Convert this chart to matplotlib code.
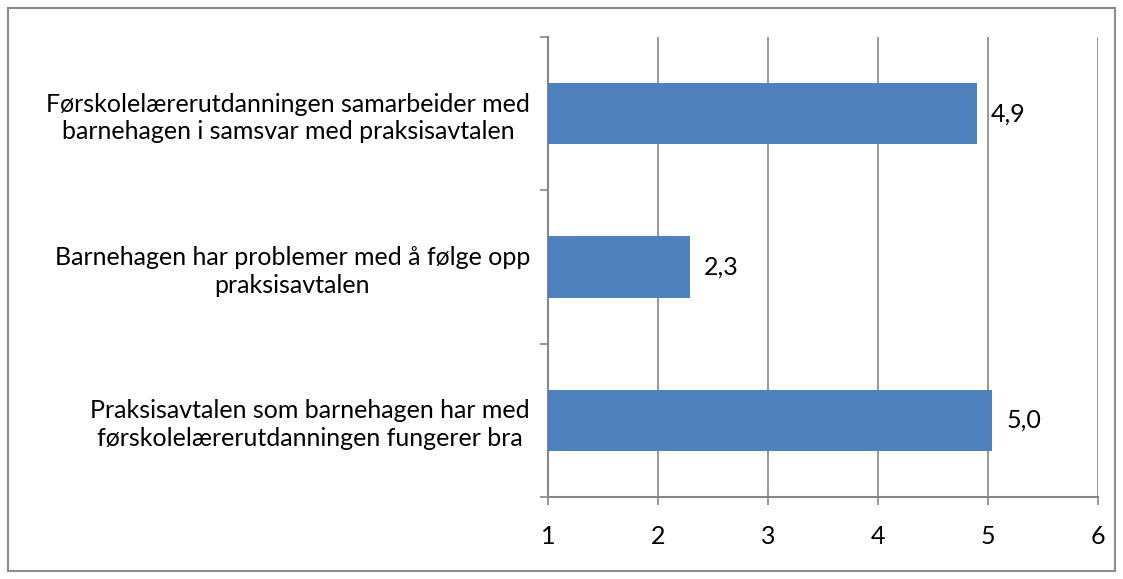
import numpy as np
import matplotlib.pyplot as plt
from matplotlib.patches import Rectangle

kategorier = [
    "Praksisavtalen som barnehagen har med\nførskolelærerutdanningen fungerer bra",
    "Barnehagen har problemer med å følge opp\npraksisavtalen",
    "Førskolelærerutdanningen samarbeider med\nbarnehagen i samsvar med praksisavtalen",
]
verdier = [5.04, 2.29, 4.90]
etiketter = ["5,0", "2,3", "4,9"]
x_ticks = [1, 2, 3, 4, 5, 6]

plt.rcParams['font.family'] = ['Lato', 'DejaVu Sans']
grid_c = '#868686'
bar_c = '#4F81BD'
fs = 18

fig = plt.figure(figsize=(11.23, 5.79), dpi=100)
ax = fig.add_axes([548/1123, 1-497/579, 550/1123, 460/579])

y = np.arange(len(kategorier))
ax.barh(y, np.array(verdier) - 1, left=1, height=0.4, color=bar_c, zorder=3)

for yi, v, t in zip(y, verdier, etiketter):
    ax.annotate(t, (v, yi), xytext=(10, 0), textcoords='offset points',
                va='center', ha='left', fontsize=fs, color='black')

ax.set_xlim(1, 6)
ax.set_ylim(-0.5, len(kategorier) - 0.5)
ax.set_xticks(x_ticks)
ax.set_xticklabels([str(t) for t in x_ticks], fontsize=fs)
ax.set_yticks(y)
ax.set_yticklabels(kategorier, fontsize=fs, ha='right', multialignment='center',
                   linespacing=1.25)
ax.tick_params(axis='y', which='major', length=0, pad=13)
ax.set_yticks(np.arange(-0.5, len(kategorier)), minor=True)
ax.tick_params(axis='y', which='minor', length=6, color=grid_c, width=1.2)
ax.tick_params(axis='x', which='major', length=6, color=grid_c, width=1.2, pad=14)

ax.grid(axis='x', color=grid_c, linewidth=1.2, zorder=0)
for s in ['top', 'right']:
    ax.spines[s].set_visible(False)
for s in ['left', 'bottom']:
    ax.spines[s].set_color(grid_c)
    ax.spines[s].set_linewidth(1.5)

fig.patches.append(Rectangle((8/1123, 8/579), 1107/1123, 563/579, transform=fig.transFigure,
                             fill=False, edgecolor='#8c8c8c', linewidth=1.5))

fig.savefig('out.png', dpi=100)
